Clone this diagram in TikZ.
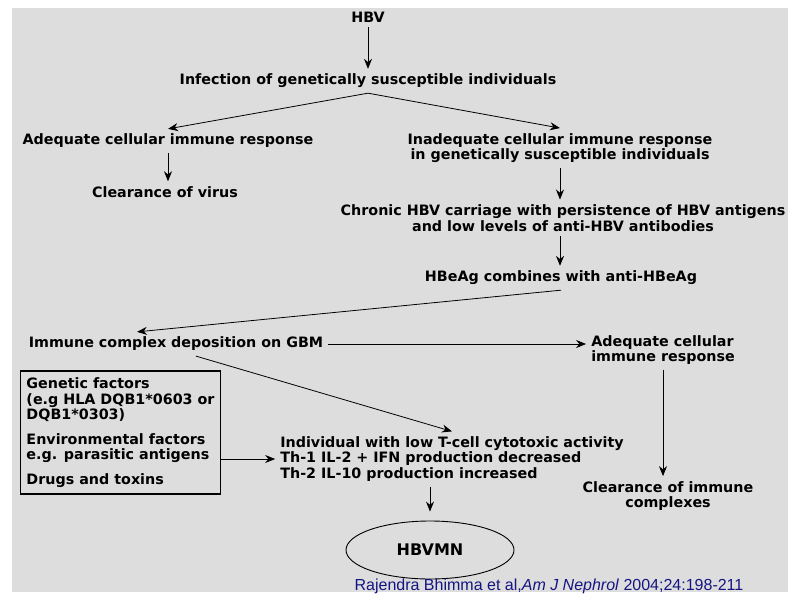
\documentclass[tikz,border=0pt]{standalone}
\usepackage{fontspec}
\setmainfont{DejaVu Sans}
\newfontfamily\citefont{Liberation Sans}
\usetikzlibrary{shapes.geometric, arrows.meta, positioning}
\definecolor{bggray}{RGB}{221,221,221}
\definecolor{citeblue}{RGB}{20,20,130}

\begin{document}
\begin{tikzpicture}[x=1pt, y=1pt, node distance=60pt]
\tikzstyle{txt} = [font=\fontsize{14.3}{15.5}\selectfont\bfseries, align=center, inner sep=5pt]
\tikzstyle{factors} = [rectangle, draw=black, line width=1.2pt, minimum width=199pt, minimum height=123pt, align=left, inner xsep=6pt, font=\fontsize{14.3}{15.5}\selectfont\bfseries]
\tikzstyle{outcome} = [ellipse, draw=black, line width=0.9pt, minimum width=168pt, minimum height=58pt, font=\fontsize{16}{18}\selectfont\bfseries]
\tikzstyle{line} = [draw, line width=0.8pt, -{Stealth[length=10pt,width=8pt]}]

\useasboundingbox (0,0) rectangle (800,-600);
\fill[bggray] (12,-8) rectangle (788,-592);

\node (hbv) [txt] at (368,-17) {HBV};
\node (infect) [txt, below of=hbv, yshift=-4pt] {Infection of genetically susceptible individuals};
\node (adeq) [txt, below of=infect, xshift=-200pt] {Adequate cellular immune response};
\node (clear1) [txt, below of=adeq, yshift=9pt, xshift=-3pt] {Clearance of virus};
\node (inad) [txt, below of=infect, xshift=192pt, yshift=-7pt] {Inadequate cellular immune response\\in genetically susceptible individuals};
\node (chronic) [txt, below of=inad, xshift=3pt, yshift=-10pt] {Chronic HBV carriage with persistence of HBV antigens\\and low levels of anti-HBV antibodies};
\node (hbeag) [txt, below of=chronic, xshift=-2pt] {HBeAg combines with anti-HBeAg};
\node (immune) [txt, below of=hbeag, xshift=-385pt, yshift=-6pt] {Immune complex deposition on GBM};
\node (adeq2) [txt, below of=hbeag, xshift=102pt, yshift=-12pt, align=left] {Adequate cellular\\immune response};
\node (clear2) [txt, below of=adeq2, xshift=5pt, yshift=-86pt] {Clearance of immune\\complexes};
\node (factors) [factors, below of=immune, xshift=-55.5pt, yshift=-28.5pt] {Genetic factors\\(e.g HLA DQB1*0603 or\\DQB1*0303)\\[9pt]Environmental factors\\e.g. parasitic antigens\\[9pt]Drugs and toxins};
\node (indiv) [txt, below of=immune, xshift=276pt, yshift=-55pt, align=left] {Individual with low T-cell cytotoxic activity\\Th-1 IL-2 + IFN production decreased\\Th-2 IL-10 production increased};
\node (hbvmn) [outcome, below of=indiv, xshift=-22pt, yshift=-31pt] {HBVMN};
\node (cite) [font=\citefont\fontsize{16}{18}\selectfont, text=citeblue, inner sep=0pt] at (549,-586) {Rajendra Bhimma et al,\textit{Am J Nephrol} 2004;24:198-211};

\path [line] (hbv) -- (infect);
\path [line] (infect.south) -- (adeq.north);
\path [line] (infect.south) -- (inad.north);
\path [line] (adeq.south) -- (adeq.south |- clear1.north);
\path [line] (inad.south) -- (inad.south |- chronic.north);
\path [line] (inad.south |- chronic.south) -- (inad.south |- hbeag.north);
\path [line] (hbeag.south) -- ([xshift=-39pt]immune.north);
\path [line] (immune.east) -- (immune.east -| adeq2.west);
\path [line] ([xshift=20pt]immune.south) -- (indiv.north);
\path [line] (adeq2.south) -- (adeq2.south |- clear2.north);
\path [line] (factors.east |- indiv.west) -- (indiv.west);
\path [line, shorten >=9pt] (indiv.south -| hbvmn.north) -- (hbvmn.north);

\end{tikzpicture}
\end{document}
